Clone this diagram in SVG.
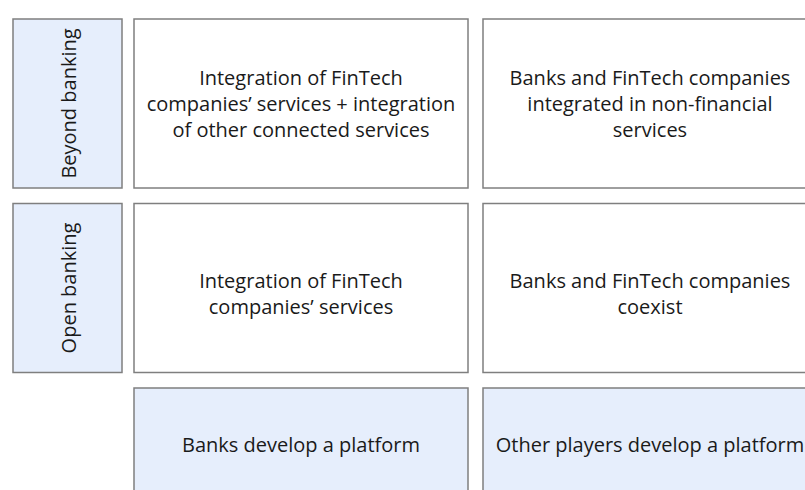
<svg xmlns="http://www.w3.org/2000/svg" width="805" height="490" viewBox="0 0 805 490">
  <style>
    .box { stroke: #7f7f7f; stroke-width: 1.5; }
    .blue { fill: #e6eefc; }
    .white { fill: #ffffff; }
    text { font-family: "Open Sans", "Liberation Sans", sans-serif; font-size: 20px; fill: #1a1a1a; text-anchor: middle; }
  </style>
  <rect width="805" height="490" fill="#ffffff"/>

  <!-- Row labels -->
  <g id="label-beyond">
    <rect class="box blue" x="13" y="19" width="109" height="169"/>
    <text transform="translate(76,103.5) rotate(-90)">Beyond banking</text>
  </g>
  <g id="label-open">
    <rect class="box blue" x="13" y="203.5" width="109" height="169"/>
    <text transform="translate(76,288) rotate(-90)">Open banking</text>
  </g>

  <!-- Beyond banking row -->
  <g id="beyond-banks">
    <rect class="box white" x="134" y="19" width="334" height="169"/>
    <text x="301" y="85">Integration of FinTech</text>
    <text x="301" y="111">companies’ services + integration</text>
    <text x="301" y="137">of other connected services</text>
  </g>
  <g id="beyond-others">
    <rect class="box white" x="483" y="19" width="334" height="169"/>
    <text x="650" y="85">Banks and FinTech companies</text>
    <text x="650" y="111">integrated in non-financial</text>
    <text x="650" y="137">services</text>
  </g>

  <!-- Open banking row -->
  <g id="open-banks">
    <rect class="box white" x="134" y="203.5" width="334" height="169"/>
    <text x="301" y="288">Integration of FinTech</text>
    <text x="301" y="314">companies’ services</text>
  </g>
  <g id="open-others">
    <rect class="box white" x="483" y="203.5" width="334" height="169"/>
    <text x="650" y="288">Banks and FinTech companies</text>
    <text x="650" y="314">coexist</text>
  </g>

  <!-- Platform owners -->
  <g id="platform-banks">
    <rect class="box blue" x="134" y="388" width="334" height="140"/>
    <text x="301" y="452">Banks develop a platform</text>
  </g>
  <g id="platform-others">
    <rect class="box blue" x="483" y="388" width="334" height="140"/>
    <text x="650" y="452">Other players develop a platform</text>
  </g>

  <g id="connectors"/>
</svg>
